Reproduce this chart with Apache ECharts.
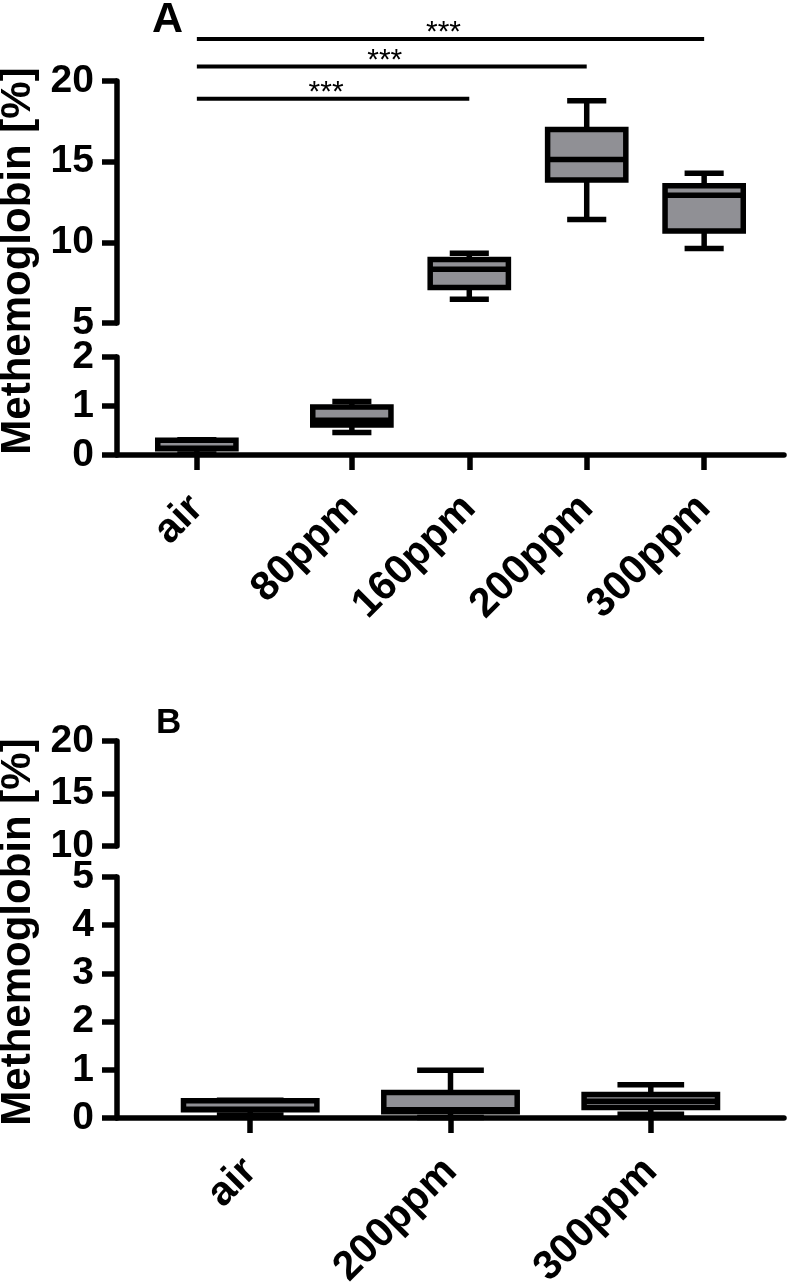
<!DOCTYPE html>
<html lang="en">
<head>
    <meta charset="UTF-8">
    <title>Methemoglobin</title>
    <script src="https://cdn.jsdelivr.net/npm/echarts@6/dist/echarts.min.js"></script>
    <style>
        html, body { margin: 0; padding: 0; background: #fff; }
        #charts { width: 787px; height: 1283px; }
    </style>
</head>
<body>
<div id="charts"></div>

<script>
    // ---- panel A ----
    var groupsA = ['air', '80ppm', '160ppm', '200ppm', '300ppm'];
    var posA = [0, 1.32, 2.32, 3.32, 4.32];      // x position of each group on the axis
    var minA = [0.02, 0.46, 6.47, 11.42, 9.62];
    var q1A  = [0.13, 0.61, 7.20, 13.87, 10.70];
    var medA = [0.14, 0.71, 8.33, 15.13, 12.92];
    var q3A  = [0.30, 0.98, 8.93, 16.99, 13.51];
    var maxA = [0.31, 1.09, 9.32, 18.77, 14.28];

    // significance bars (index of groups, height in %)
    var sigFrom  = [0, 0, 0];
    var sigTo    = [2, 3, 4];
    var sigLevel = [18.9, 20.9, 22.6];
    var sigText  = ['***', '***', '***'];

    // ---- panel B ----
    var groupsB = ['air', '200ppm', '300ppm'];
    var posB = [1, 2, 3];
    var minB = [0.06, 0.01, 0.08];
    var q1B  = [0.17, 0.13, 0.22];
    var medB = [0.18, 0.17, 0.35];
    var q3B  = [0.36, 0.53, 0.49];
    var maxB = [0.37, 0.99, 0.69];

    // broken y axes: [min, max, interval], lower part then upper part
    var segA = [[0, 2, 1], [5, 20, 5]];
    var segB = [[0, 5, 1], [10, 20, 5]];

    var BOX_W = 0.666;
    var LW = 5.5;
    var FILL = '#909095';
    var FONT = '"Liberation Sans", Arial, sans-serif';

    function boxData(pos, mn, q1, md, q3, mx) {
        return pos.map(function (p, i) {
            return [p, mn[i], q1[i], md[i], q3[i], mx[i]];
        });
    }

    // draws a box only in the axis part that holds its median
    function boxItem(lo, hi) {
        return function (params, api) {
            var md = api.value(3);
            if (md < lo || md > hi) return null;
            var x = api.value(0);
            var half = api.size([BOX_W, 0])[0] / 2;
            var pMin = api.coord([x, api.value(1)]);
            var pQ1 = api.coord([x, api.value(2)]);
            var pMd = api.coord([x, md]);
            var pQ3 = api.coord([x, api.value(4)]);
            var pMax = api.coord([x, api.value(5)]);
            var cx = pMd[0];
            var ln = {stroke: '#000', lineWidth: LW};
            return {
                type: 'group',
                children: [
                    {type: 'line', shape: {x1: cx, y1: pMax[1], x2: cx, y2: pQ3[1]}, style: ln},
                    {type: 'line', shape: {x1: cx, y1: pQ1[1], x2: cx, y2: pMin[1]}, style: ln},
                    {type: 'line', shape: {x1: cx - half / 2, y1: pMax[1], x2: cx + half / 2, y2: pMax[1]}, style: ln},
                    {type: 'line', shape: {x1: cx - half / 2, y1: pMin[1], x2: cx + half / 2, y2: pMin[1]}, style: ln},
                    {type: 'rect', shape: {x: cx - half, y: pQ3[1], width: half * 2, height: pQ1[1] - pQ3[1]},
                        style: {fill: FILL, stroke: '#000', lineWidth: LW}},
                    {type: 'line', shape: {x1: cx - half, y1: pMd[1], x2: cx + half, y2: pMd[1]}, style: ln}
                ]
            };
        };
    }

    function sigItem(params, api) {
        var p1 = api.coord([api.value(0), api.value(2)]);
        var p2 = api.coord([api.value(1), api.value(2)]);
        return {
            type: 'group',
            children: [
                {type: 'line', shape: {x1: p1[0], y1: p1[1], x2: p2[0], y2: p2[1]},
                    style: {stroke: '#000', lineWidth: 4}},
                {type: 'text', x: (p1[0] + p2[0]) / 2 - 7, y: p1[1] - 6,
                    style: {text: sigText[params.dataIndex], font: '30px ' + FONT, fill: '#000',
                        align: 'center', verticalAlign: 'middle'}}
            ]
        };
    }

    function yAxis(seg, grid) {
        return {
            type: 'value', gridIndex: grid, min: seg[0], max: seg[1], interval: seg[2],
            axisLine: {show: true, onZero: false, lineStyle: {color: '#000', width: LW}},
            axisTick: {show: true, length: 15, lineStyle: {color: '#000', width: LW}},
            axisLabel: {color: '#000', fontSize: 39, fontWeight: 'bold', fontFamily: FONT, margin: 23},
            splitLine: {show: false}
        };
    }

    function xAxis(grid, mn, mx, pos, names, visible) {
        return {
            type: 'value', gridIndex: grid, min: mn, max: mx, show: visible,
            axisLine: {show: true, onZero: false, lineStyle: {color: '#000', width: LW}},
            axisTick: {show: true, customValues: pos, length: 15, lineStyle: {color: '#000', width: LW}},
            axisLabel: {
                customValues: pos, rotate: 45, margin: 47, color: '#000',
                fontSize: 41, fontWeight: 'bold', fontFamily: FONT,
                formatter: function (v) {
                    for (var i = 0; i < pos.length; i++) {
                        if (Math.abs(pos[i] - v) < 1e-6) return names[i];
                    }
                    return '';
                }
            },
            splitLine: {show: false}
        };
    }

    var grid = function (top, height) {
        return {left: 117, width: 667, top: top, height: height, outerBoundsMode: 'none'};
    };

    var option = {
        animation: false,
        backgroundColor: '#fff',
        grid: [grid(81, 242), grid(357, 98), grid(741, 105), grid(877, 241)],
        xAxis: [
            xAxis(0, -0.68, 5, posA, groupsA, false),
            xAxis(1, -0.68, 5, posA, groupsA, true),
            xAxis(2, 0.335, 3.665, posB, groupsB, false),
            xAxis(3, 0.335, 3.665, posB, groupsB, true)
        ],
        yAxis: [yAxis(segA[1], 0), yAxis(segA[0], 1), yAxis(segB[1], 2), yAxis(segB[0], 3)],
        graphic: [
            {type: 'text', x: 152, y: 20, style: {text: 'A', font: 'bold 43px ' + FONT, fill: '#000', verticalAlign: 'middle'}},
            {type: 'text', x: 156, y: 723, style: {text: 'B', font: 'bold 35px ' + FONT, fill: '#000', verticalAlign: 'middle'}},
            {type: 'text', x: 18, y: 261, rotation: Math.PI / 2,
                style: {text: 'Methemoglobin [%]', font: 'bold 42px ' + FONT, fill: '#000', align: 'center', verticalAlign: 'middle'}},
            {type: 'text', x: 18, y: 932, rotation: Math.PI / 2,
                style: {text: 'Methemoglobin [%]', font: 'bold 42px ' + FONT, fill: '#000', align: 'center', verticalAlign: 'middle'}}
        ],
        series: [
            {type: 'custom', xAxisIndex: 0, yAxisIndex: 0, renderItem: boxItem(segA[1][0], segA[1][1]),
                data: boxData(posA, minA, q1A, medA, q3A, maxA)},
            {type: 'custom', xAxisIndex: 1, yAxisIndex: 1, renderItem: boxItem(segA[0][0], segA[0][1]),
                data: boxData(posA, minA, q1A, medA, q3A, maxA)},
            {type: 'custom', xAxisIndex: 0, yAxisIndex: 0, renderItem: sigItem,
                data: sigFrom.map(function (f, i) { return [posA[f], posA[sigTo[i]], sigLevel[i]]; })},
            {type: 'custom', xAxisIndex: 2, yAxisIndex: 2, renderItem: boxItem(segB[1][0], segB[1][1]),
                data: boxData(posB, minB, q1B, medB, q3B, maxB)},
            {type: 'custom', xAxisIndex: 3, yAxisIndex: 3, renderItem: boxItem(segB[0][0], segB[0][1]),
                data: boxData(posB, minB, q1B, medB, q3B, maxB)}
        ]
    };

    var myChart = echarts.init(document.getElementById('charts'));
    myChart.setOption(option);
</script>
</body>
</html>
